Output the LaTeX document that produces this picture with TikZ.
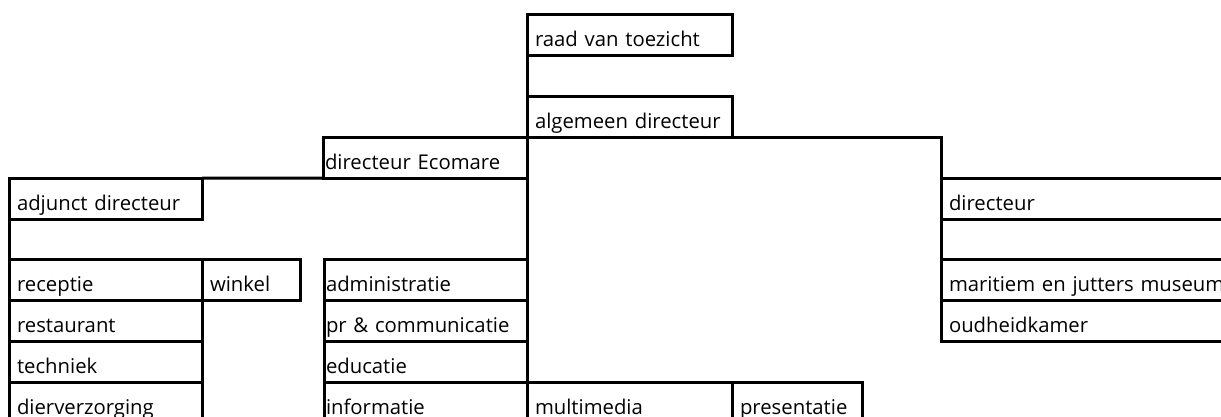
\documentclass[tikz,border=0pt]{standalone}
\usepackage{fontspec}
\setmainfont{Open Sans}
\usepackage{tikz}

\begin{document}
\begin{tikzpicture}[x=1pt, y=-1pt, line width=3pt,
        box/.style={draw, rectangle, anchor=north west, outer sep=0pt,
            inner xsep=8pt, inner ysep=0pt, text height=31.8pt, text depth=9pt,
            align=left, font=\fontsize{20.3}{24}\selectfont},
        tight/.style={inner xsep=2pt}]
        \useasboundingbox (0,0) rectangle (1221,417);

        % top
        \node[box, text width=189pt] (raad) at (527,15) {raad van toezicht};
        \node[box, text width=189pt] (algemeen) at (527,96.6) {algemeen directeur};
        \node[box, tight, text width=200pt] (ecomare) at (323,137.4) {directeur Ecomare};
        \node[box, text width=177pt] (adjunct) at (9,178.2) {adjunct directeur};
        \node[box, text width=300pt] (directeur) at (941,178.2) {directeur};

        % adjunct directeur
        \node[box, text width=177pt] (receptie) at (9,259.8) {receptie};
        \node[box, text width=82pt] (winkel) at (receptie.north east) {winkel};
        \node[box, text width=177pt] (restaurant) at (9,300.6) {restaurant};
        \node[box, text width=177pt] (techniek) at (9,341.4) {techniek};
        \node[box, text width=177pt] (dierverzorging) at (9,382.2) {dierverzorging};

        % directeur Ecomare
        \node[box, tight, text width=199pt] (administratie) at (324,259.8) {administratie};
        \node[box, tight, text width=199pt] (pr) at (324,300.6) {pr \& communicatie};
        \node[box, tight, text width=199pt] (educatie) at (324,341.4) {educatie};
        \node[box, tight, text width=199pt] (informatie) at (324,382.2) {informatie};
        \node[box, text width=189pt] (multimedia) at (informatie.north east) {multimedia};
        \node[box, text width=114pt] (presentatie) at (multimedia.north east) {presentatie};

        % directeur
        \node[box, text width=300pt] (maritiem) at (941,259.8) {maritiem en jutters museum};
        \node[box, text width=300pt] (oudheidkamer) at (941,300.6) {oudheidkamer};

        \draw (raad.south west) -- (algemeen.north west);
        \draw (algemeen.south east) -| (directeur.north west);
        \draw (adjunct.north east) -- (ecomare.south west);
        \draw (ecomare.south east) -- (administratie.north east);
        \draw (adjunct.south west) -- (receptie.north west);
        \draw (directeur.south west) -- (maritiem.north west);
    \end{tikzpicture}
\end{document}
